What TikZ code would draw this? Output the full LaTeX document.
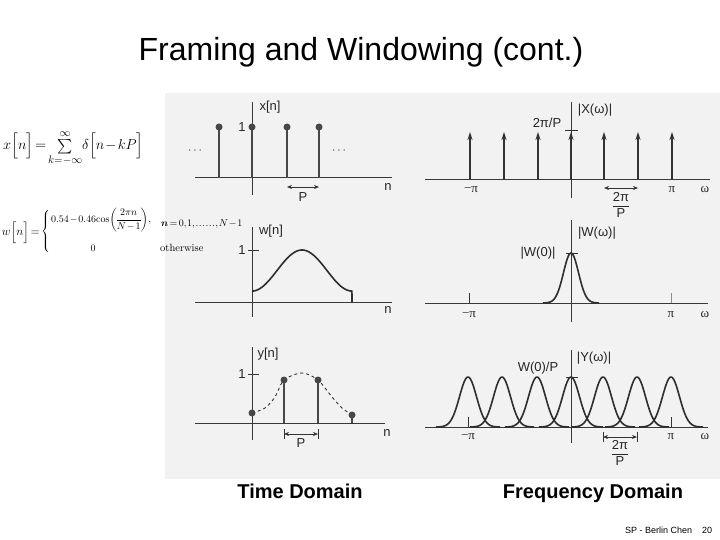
\documentclass[tikz,border=0pt]{standalone}
\usepackage{amsmath}
\usepackage{fontspec}
\setsansfont{Liberation Sans}
\newfontfamily\gk{Liberation Serif}
\usetikzlibrary{arrows.meta}
\newcommand{\tightmath}{\thinmuskip=1mu\medmuskip=1.5mu\thickmuskip=2.5mu\nulldelimiterspace=0pt}
\begin{document}
\begin{tikzpicture}[x=1pt,y=-1pt,
 ax/.style={line width=1pt,draw=black!78},
 lab/.style={font=\sffamily\fontsize{13}{14}\selectfont,text=black!85,inner sep=0pt},
 glab/.style={font=\gk\fontsize{13}{14}\selectfont,text=black!85,inner sep=0pt},
 fml/.style={inner sep=0pt,text=black},
 stemln/.style={line width=1.4pt,draw=black!72},
 dotp/.style={circle,fill=black!72,inner sep=0pt,minimum size=7pt},
 crv/.style={line width=1.6pt,draw=black!82},
 dimarr/.style={line width=0.7pt,draw=black!80,{Stealth[length=5pt,width=4pt]}-{Stealth[length=5pt,width=4pt]}},
 tk/.style={line width=0.8pt,draw=black!80},
 upar/.style={line width=1.5pt,draw=black!80,-{Stealth[length=8pt,width=5pt]}}]
\useasboundingbox (0,0) rectangle (720,540);
\fill[white] (0,0) rectangle (720,540);
\fill[black!5] (165,93) rectangle (720,479);

% title and captions
\node[anchor=base,inner sep=0pt,font=\sffamily\fontsize{32}{36}\selectfont] (title) at (361,61) {Framing and Windowing (cont.)};
\node[anchor=base,inner sep=0pt,font=\sffamily\bfseries\fontsize{20}{24}\selectfont] (td) at (300,498) {Time Domain};
\node[anchor=base,inner sep=0pt,font=\sffamily\bfseries\fontsize{20}{24}\selectfont] (fd) at (593,498) {Frequency Domain};
\node[anchor=west,inner sep=0pt,font=\sffamily\fontsize{9}{10}\selectfont] (foot) at (625,530) {SP - Berlin Chen};
\node[anchor=west,inner sep=0pt,font=\sffamily\fontsize{9}{10}\selectfont] (pg) at (702,530) {20};

% formulas
\node[fml,anchor=west,font=\fontsize{15.5}{18}\selectfont] (fx) at (3,148)
 {\tightmath$x\Big[n\Big]=\sum\limits_{k=-\infty}^{\infty}\!\delta\Big[n-kP\Big]$};
\node[fml,anchor=east,font=\fontsize{11.5}{14}\selectfont] (fwl) at (40,233)
 {\tightmath$w\Big[n\Big]=$};
\node[fml,anchor=west,font=\fontsize{10}{12}\selectfont] (brc) at (41,231)
 {$\left\{\vrule height 18pt depth 18pt width 0pt\right.$};
\node[fml,anchor=west,font=\fontsize{10}{12}\selectfont] (fr1) at (51,220)
 {\tightmath$0.54-0.46\mathrm{cos}\!\left(\dfrac{2\pi n}{N-1}\right),$};
\node[fml,font=\fontsize{10}{12}\selectfont] (fr2) at (93,248) {$0$};
\node[fml,anchor=west,font=\fontsize{10}{12}\selectfont] (fc1) at (161,224)
 {\tightmath$\boldsymbol{n}=0,1,\ldots\ldots,N-1$};
\node[fml,anchor=west,font=\fontsize{10.5}{12}\selectfont] (fc2) at (160,248) {otherwise};

% ---------- panel 1: x[n]
\draw[ax] (195,178) -- (392,178);
\draw[ax] (252,102) -- (252,195);
\foreach \s in {219,252,287,319}{
  \draw[stemln] (\s,178) -- (\s,127);
  \node[dotp] at (\s,127) {};
}
\node[lab] (one1) at (242,127) {1};
\node[lab] (xn) at (270,107) {x[n]};
\node[lab] (dl) at (196,151) {$\cdots$};
\node[lab] (dr) at (340,151) {$\cdots$};
\draw[dimarr] (287,187) -- (319,187);
\node[lab] (p1) at (303,197) {P};
\node[lab] (n1) at (388,187) {n};

% ---------- panel 2: |X(w)|
\draw[ax] (425,180) -- (710,180);
\draw[ax] (571,102) -- (571,198);
\foreach \s in {470,504,538,571,604,638,672}{
  \draw[upar] (\s,180) -- (\s,132);
}
\draw[tk] (565,130) -- (578,130);
\node[lab] (xh) at (547,123) {2π/P};
\node[lab] (Xw) at (595,110) {|X(ω)|};
\node[glab] (mp2) at (471,190) {−π};
\node[glab] (pp2) at (672,190) {π};
\node[glab] (w2) at (705,190) {ω};
\draw[dimarr] (604,188) -- (638,188);
\node[lab] (fq2) at (621,205) {$\dfrac{\mbox{2π}}{\mbox{P}}$};

% ---------- panel 3: w[n]
\draw[ax] (195,302) -- (392,302);
\draw[ax] (252,227) -- (252,317);
\draw[tk] (248,250) -- (259,250);
\node[lab] (one3) at (242,250) {1};
\node[lab] (wn) at (271,231) {w[n]};
\draw[crv] plot[domain=0:1,samples=60,smooth] ({252+100*\x},{302-52*(0.605-0.395*cos(360*\x))}) -- (352,302);
\node[lab] (n3) at (388,310) {n};

% ---------- panel 4: |W(w)|
\draw[ax] (425,303) -- (708,303);
\draw[ax] (571,220) -- (571,322);
\draw[tk] (566,253) -- (578,253);
\draw[crv] plot[domain=-28:28,samples=70,smooth] ({571+\x},{303-50*exp(-0.5*(\x/7.5)*(\x/7.5))});
\draw[tk] (469,303) -- (469,293);
\draw[tk,draw=black!45] (671,303) -- (671,293);
\node[lab] (Ww) at (597,233) {|W(ω)|};
\node[lab] (W0) at (538,253) {|W(0)|};
\node[glab] (mp4) at (469,315) {−π};
\node[glab] (pp4) at (671,315) {π};
\node[glab] (w4) at (705,315) {ω};

% ---------- panel 5: y[n]
\draw[ax] (195,423) -- (385,423);
\draw[ax] (252,347) -- (252,440);
\draw[tk] (248,374) -- (259,374);
\node[lab] (one5) at (242,374) {1};
\node[lab] (yn) at (268,354) {y[n]};
\draw[line width=0.9pt,draw=black!80,dashed] plot[smooth] coordinates {(252,413) (265,408) (275,397) (284,380) (302,373) (318,380) (332,397) (342,408) (352,415)};
\draw[stemln] (284,423) -- (284,380);
\draw[stemln] (318,423) -- (318,380);
\draw[stemln] (352,423) -- (352,415);
\foreach \a/\b in {252/413,284/380,318/380,352/415}{
  \node[dotp] at (\a,\b) {};
}
\draw[tk] (284,429) -- (284,439);
\draw[tk] (318,429) -- (318,439);
\draw[dimarr] (284,434) -- (318,434);
\node[lab] (p5) at (301,443) {P};
\node[lab] (n5) at (387,433) {n};

% ---------- panel 6: |Y(w)|
\draw[ax] (425,427) -- (708,427);
\draw[ax] (571,350) -- (571,443);
\foreach \c in {468,502,537,571,603,637,671}{
  \draw[crv] plot[domain=-32:32,samples=70,smooth] ({\c+\x},{427-50*exp(-0.5*(\x/8.5)*(\x/8.5))});
}
\draw[tk] (566,377) -- (578,377);
\draw[tk] (468,427) -- (468,417);
\draw[tk] (671,427) -- (671,417);
\node[lab] (W0P) at (538,368) {W(0)/P};
\node[lab] (Yw) at (594,358) {|Y(ω)|};
\node[glab] (mp6) at (468,437) {−π};
\node[glab] (pp6) at (671,437) {π};
\node[glab] (w6) at (705,437) {ω};
\draw[tk] (603,432) -- (603,442);
\draw[tk] (637,432) -- (637,442);
\draw[dimarr] (603,437) -- (637,437);
\node[lab] (fq6) at (620,453) {$\dfrac{\mbox{2π}}{\mbox{P}}$};
\end{tikzpicture}
\end{document}
